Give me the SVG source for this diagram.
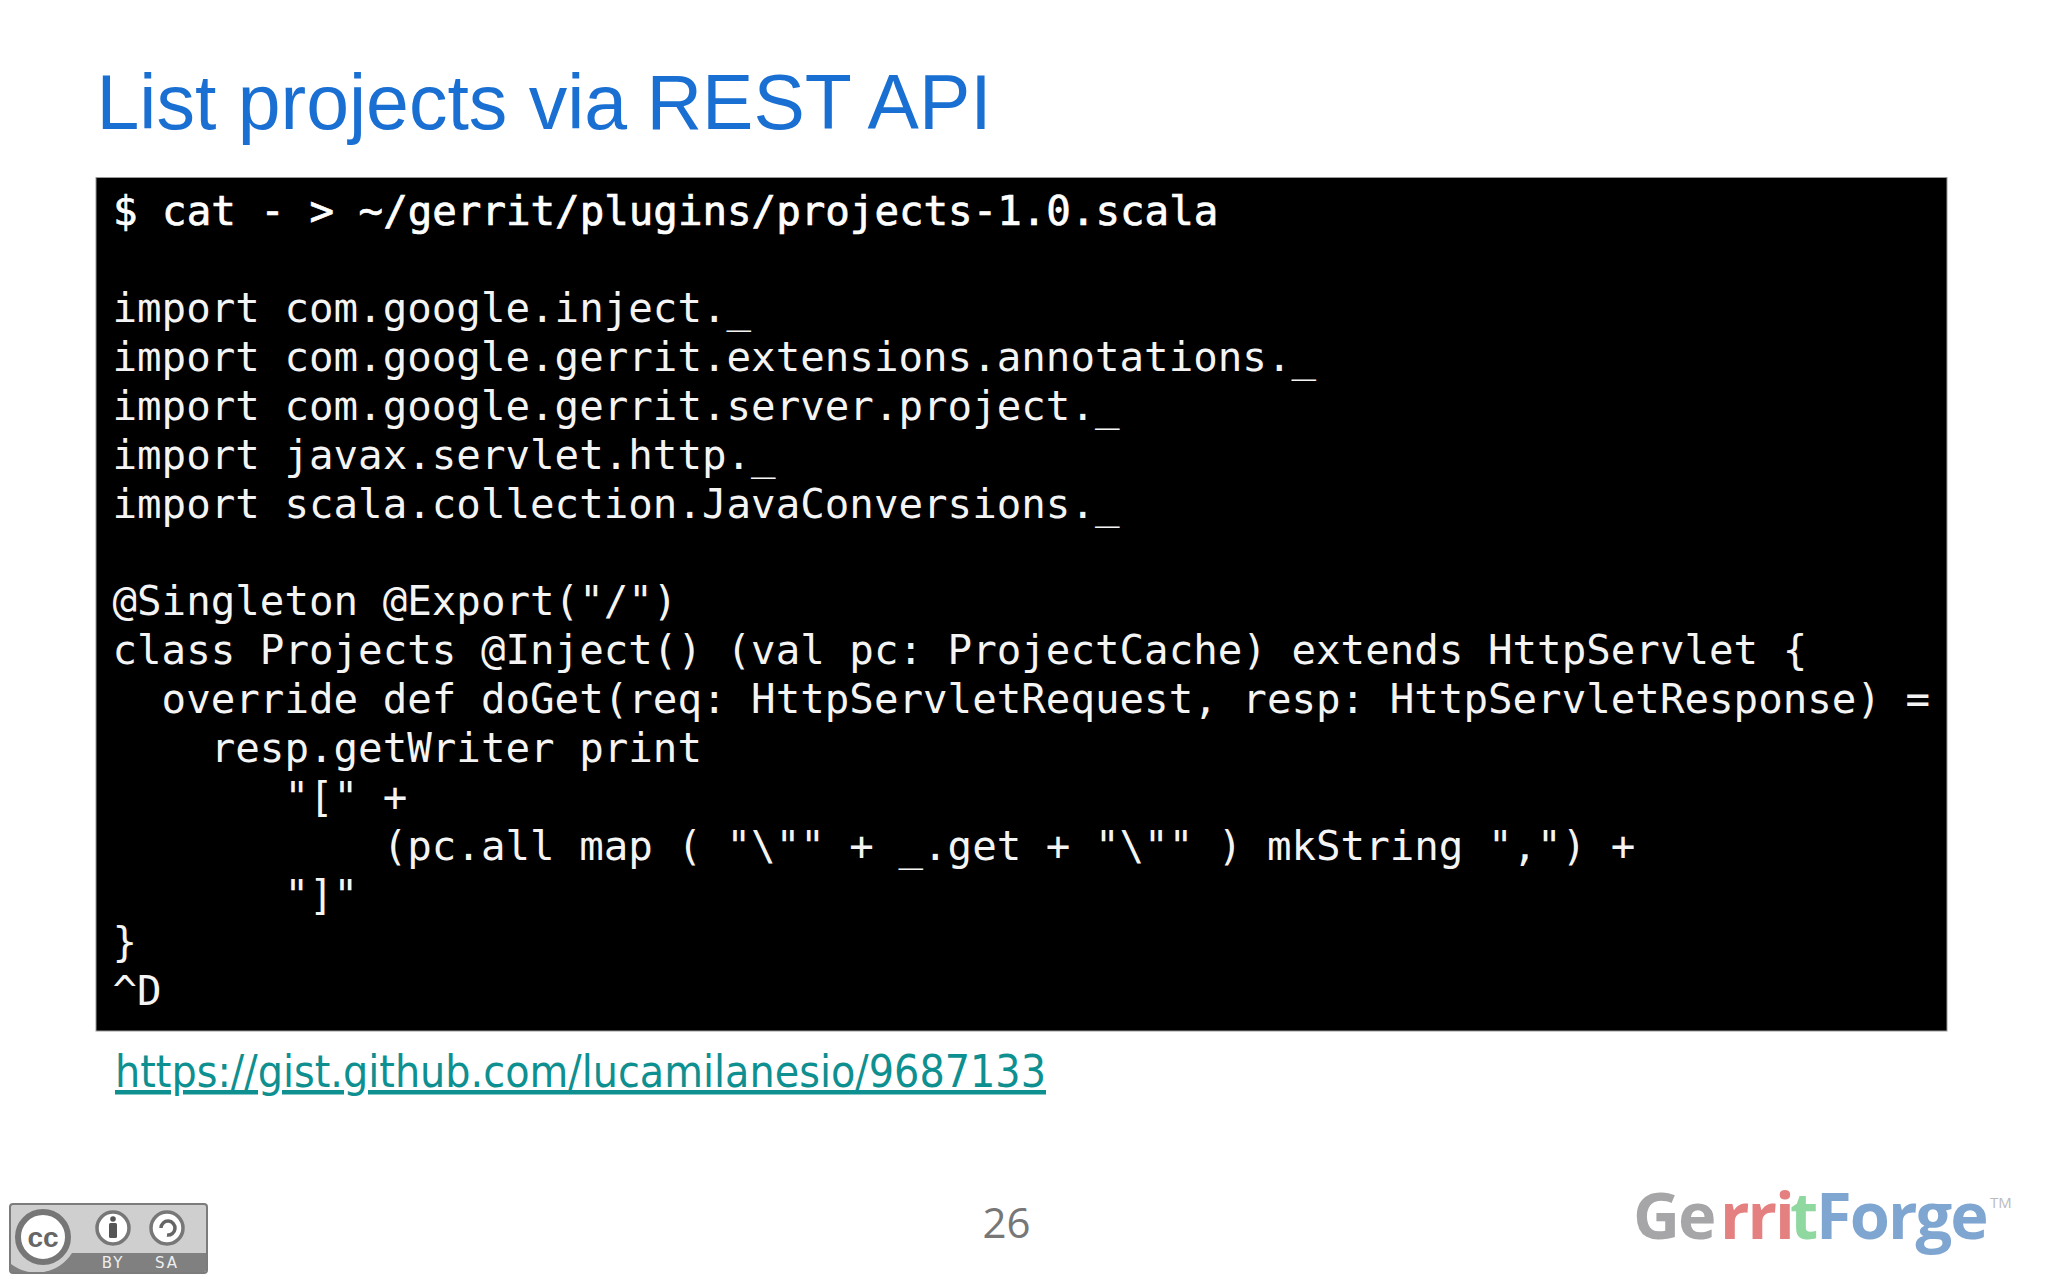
<svg xmlns="http://www.w3.org/2000/svg" width="2048" height="1279" viewBox="0 0 2048 1279">
<style>
.c{font-family:"DejaVu Sans Mono","Liberation Mono",monospace;font-size:40.8px;fill:#f4f4f4;white-space:pre}
.b{fill:#fff;stroke:#fff;stroke-width:.7px}
.l{font-family:"DejaVu Sans",sans-serif;font-size:15px;fill:#eee}
.t{font-family:"Liberation Sans",Arial,sans-serif;font-size:77px;fill:#1a6fd2}
.g{font-family:"Open Sans",sans-serif;font-weight:bold;font-size:65px;letter-spacing:-2px}
</style>
<rect width="2048" height="1279" fill="#fff"/>
<g id="title"><text class="t" x="96.500" y="129">List projects via <tspan x="646.500">REST API</tspan></text></g>
<g id="code">
<rect x="96" y="177.500" width="1851" height="853.500" fill="#000" stroke="#999" stroke-width="1"/>
<text class="c b" x="113" y="225">$ cat - &gt; ~/gerrit/plugins/projects-1.0.scala</text>
<text class="c" x="112.500" y="322">import com.google.inject._</text>
<text class="c" x="112.500" y="371">import com.google.gerrit.extensions.annotations._</text>
<text class="c" x="112.500" y="420">import com.google.gerrit.server.project._</text>
<text class="c" x="112.500" y="469">import javax.servlet.http._</text>
<text class="c" x="112.500" y="518">import scala.collection.JavaConversions._</text>
<text class="c" x="112.500" y="615">@Singleton @Export("/")</text>
<text class="c" x="112.500" y="664">class Projects @Inject() (val pc: ProjectCache) extends HttpServlet {</text>
<text class="c" x="112.500" y="713">  override def doGet(req: HttpServletRequest, resp: HttpServletResponse) =</text>
<text class="c" x="112.500" y="762">    resp.getWriter print</text>
<text class="c" x="112.500" y="811">       "[" +</text>
<text class="c" x="112.500" y="860">           (pc.all map ( "\"" + _.get + "\"" ) mkString ",") +</text>
<text class="c" x="112.500" y="909">       "]"</text>
<text class="c" x="112.500" y="956">}</text>
<text class="c" x="112.500" y="1005">^D</text>
</g>
<g id="link"><text x="115" y="1087" font-family="DejaVu Sans,sans-serif" font-size="45" fill="#0f9090" text-decoration="underline" textLength="931" lengthAdjust="spacingAndGlyphs">https://gist.github.com/lucamilanesio/9687133</text></g>
<g id="page"><text x="1006.500" y="1238" text-anchor="middle" font-family="Open Sans,sans-serif" font-size="42" fill="#777">26</text></g>
<g id="cc-badge">
<rect x="10" y="1204" width="197" height="69" rx="3" fill="#cfcfcf" stroke="#7c7c7c" stroke-width="2"/>
<path d="M11 1272V1264A42 42 0 0 0 72 1253H206V1270Q206 1272 204 1272Z" fill="#808080"/>
<circle cx="43" cy="1237" r="25" fill="#fff" stroke="#767676" stroke-width="6"/>
<text x="43" y="1247" text-anchor="middle" font-family="Liberation Sans,sans-serif" font-size="28" font-weight="bold" fill="#666">cc</text>
<circle cx="113" cy="1228" r="16" fill="#fff" stroke="#777" stroke-width="3.500"/>
<circle cx="113" cy="1219" r="2.800" fill="#555"/>
<rect x="109" y="1223" width="8" height="15" rx="1.500" fill="#555"/>
<circle cx="167" cy="1228" r="16" fill="#fff" stroke="#777" stroke-width="3.500"/>
<path d="M161 1228A7 7 0 1 1 167 1235" fill="none" stroke="#666" stroke-width="3.500"/>
<text class="l" x="113" y="1268" text-anchor="middle" letter-spacing="2">BY</text>
<text class="l" x="167" y="1268" text-anchor="middle" letter-spacing="2">SA</text>
</g>
<g id="logo">
<text class="g" x="1633" y="1239" fill="#a6a6a8">Ge<tspan x="1720" fill="#e58080">rri</tspan><tspan x="1790" fill="#8fd8a0">t</tspan><tspan x="1816" fill="#7fa6d0">Forge</tspan></text>
<text x="1990" y="1208" font-family="Open Sans,sans-serif" font-size="15" fill="#bbb">TM</text>
</g>
</svg>
